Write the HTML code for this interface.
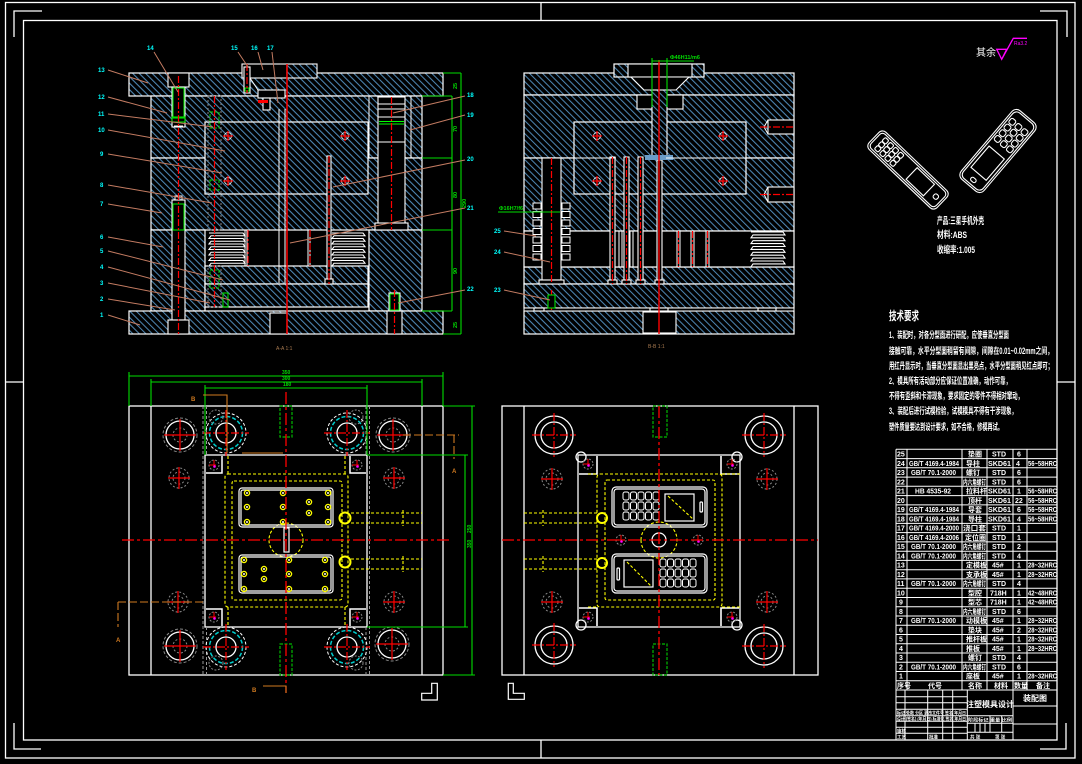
<!DOCTYPE html>
<html><head><meta charset="utf-8"><style>
html,body{margin:0;padding:0;background:#000;overflow:hidden}
svg{display:block}
text{font-family:"Liberation Sans","Noto Sans CJK SC",sans-serif}
</style></head><body>
<svg xmlns="http://www.w3.org/2000/svg" xmlns:xlink="http://www.w3.org/1999/xlink" width="1082" height="764" viewBox="0 0 1082 764">
<defs>
<pattern id="h" width="4.6" height="4.6" patternUnits="userSpaceOnUse" patternTransform="rotate(-45)"><rect width="4.6" height="4.6" fill="#000"/><line x1="0.5" y1="0" x2="0.5" y2="4.6" stroke="#4f88b5" stroke-width="1.1"/></pattern>
<g id="cx"><circle r="3.5" fill="none" stroke="#fff" stroke-width="0.8"/><path d="M-5 0H5M0 -5V5" stroke="#f00" stroke-width="1.3"/></g>
<g id="gb"><circle r="20" fill="none" stroke="#fff" stroke-dasharray="3 2"/><circle r="16.5" fill="none" stroke="#0cc" stroke-width="1.5" stroke-dasharray="4 2"/><circle r="10" fill="none" stroke="#fff" stroke-width="1.3"/><path d="M-23 0H23M0 -23V23" stroke="#f00" stroke-width="1.2" stroke-dasharray="8 2 2 2"/></g>
<g id="rp"><circle r="17" fill="none" stroke="#888" stroke-dasharray="3 2"/><circle r="14" fill="none" stroke="#fff" stroke-width="1.3"/><circle r="7" fill="none" stroke="#888" stroke-dasharray="2 2"/><path d="M-16 0H16M0 -16V16" stroke="#f00" stroke-width="1.2"/></g>
<g id="ss"><circle r="10" fill="none" stroke="#888" stroke-dasharray="2 2"/><circle r="6" fill="none" stroke="#888" stroke-dasharray="2 2"/><path d="M-11 0H11M0 -11V11" stroke="#f00" stroke-width="1.2"/></g>
<g id="ch"><circle r="5" fill="none" stroke="#888" stroke-dasharray="2 1.5"/><path d="M-5 0H2M0 -5V2" stroke="#f00"/><circle r="1.3" cx="0.5" cy="1.5" fill="#f0f"/></g>
<g id="lc"><circle r="19" fill="none" stroke="#fff" stroke-width="1.3"/><circle r="13" fill="none" stroke="#fff" stroke-width="1.3"/><path d="M-22 0H22M0 -22V22" stroke="#f00" stroke-width="1.2" stroke-dasharray="8 2 2 2"/></g>
<g id="yh"><circle r="2.6" fill="none" stroke="#ff0" stroke-width="1.3"/><circle r="1" fill="#fff"/></g>
<g id="key"><rect width="6" height="8" rx="2" fill="none" stroke="#fff" stroke-width="1"/></g>
</defs>
<rect width="1082" height="764" fill="#000"/>

<!-- FRAME -->
<g stroke="#fff" fill="none" stroke-width="1.3">
<rect x="5.5" y="2.5" width="1069.5" height="755.5"/>
<rect x="23.5" y="20.5" width="1033.5" height="719.5"/>
<path d="M14 37V11H42M14 723V749H41M1040 11H1067V37M1040 749H1066V723M541 2V20M541 740V758M5 382H23M1057 382H1075"/>
</g>

<!-- ================= VIEW A-A ================= -->
<g stroke="#fff" stroke-width="1.2" fill="url(#h)">
<rect x="129" y="73" width="314" height="23"/>
<rect x="151" y="96" width="271" height="62"/>
<rect x="151" y="158" width="271" height="72"/>
<rect x="151" y="230" width="54" height="81"/>
<rect x="369" y="230" width="53" height="81"/>
<rect x="205" y="266" width="163" height="18"/>
<rect x="205" y="284" width="163" height="23"/>
<rect x="129" y="311" width="314" height="23"/>
<rect x="205" y="122" width="163" height="72"/>
</g>
<g stroke="#fff" stroke-width="1.1" fill="#000">
<rect x="242" y="64" width="45" height="14"/>
<rect x="270" y="313" width="17" height="21"/>
<rect x="327" y="156" width="4" height="127"/>
<rect x="325" y="279" width="8" height="5"/>
<rect x="168" y="73" width="21" height="14"/>
<rect x="172" y="87" width="13" height="40"/>
<rect x="172" y="200" width="13" height="120"/>
<rect x="168" y="320" width="21" height="14"/>
<rect x="378" y="97" width="27" height="133"/>
<rect x="375" y="223" width="33" height="7"/>
<rect x="387" y="311" width="15" height="23"/>
<rect x="389" y="293" width="11" height="18"/>
<rect x="244" y="67" width="6" height="26"/>
<rect x="258" y="90" width="27" height="8"/>
<rect x="263" y="98" width="7" height="12"/>
</g>
<rect x="287" y="64" width="30" height="14" fill="url(#h)" stroke="#fff" stroke-width="1.1"/>
<path d="M250 78L258 90M279 109V283M285 109V283M245 230V266M247 230V266M308 230V266M310 230V266M378 104H405M378 109H405M378 117H405M378 142H405M369 96V158M411 96V158M174 126H183M175 196H182V200H175Z" stroke="#fff" fill="none" stroke-width="1"/>
<path d="M379 121.5H404M379 124H404" stroke="#0f0" stroke-width="1"/>
<g fill="none" stroke="#0d0" stroke-width="1.1">
<rect x="173" y="88" width="11" height="30"/>
<rect x="172" y="117" width="13" height="5"/>
<rect x="173" y="204" width="11" height="26"/>
<rect x="390" y="294" width="9" height="16"/>
<rect x="223" y="293" width="5" height="14"/>
<rect x="245" y="88" width="4" height="3"/>
</g>
<g fill="none" stroke="#888" stroke-dasharray="2 2">
<rect x="208" y="96" width="13" height="134"/>
<rect x="208" y="266" width="13" height="41"/>
</g>
<g fill="none" stroke="#0d0" stroke-dasharray="3 1.5">
<rect x="210" y="112" width="9" height="16"/>
<rect x="210" y="180" width="9" height="10"/>
<rect x="210" y="270" width="9" height="18"/>
</g>
<rect x="258" y="100" width="10" height="3" fill="#f00"/>
<!-- springs A-A -->
<path d="M209 233h34l2 2.75h-34l-2 2.75h34l2 2.75h-34l-2 2.75h34l2 2.75h-34l-2 2.75h34l2 2.75h-34l-2 2.75h34l2 2.75h-34l-2 2.75h34l2 2.75h-34l-2 2.75" fill="none" stroke="#fff" stroke-width="1.1"/>
<path d="M332 233h31l2 2.75h-31l-2 2.75h31l2 2.75h-31l-2 2.75h31l2 2.75h-31l-2 2.75h31l2 2.75h-31l-2 2.75h31l2 2.75h-31l-2 2.75h31l2 2.75h-31l-2 2.75" fill="none" stroke="#fff" stroke-width="1.1"/>
<!-- red centerlines A-A -->
<line x1="287" y1="64" x2="287" y2="334" stroke="#f00" stroke-width="1.5"/>
<g stroke="#f00" stroke-width="1.2" stroke-dasharray="7 2 2 2">
<line x1="329" y1="156" x2="329" y2="284"/>
<line x1="178.5" y1="76" x2="178.5" y2="334"/>
<line x1="214.5" y1="96" x2="214.5" y2="307"/>
<line x1="391.5" y1="97" x2="391.5" y2="230"/>
<line x1="394.5" y1="290" x2="394.5" y2="334"/>
<line x1="247" y1="64" x2="247" y2="93"/>
<line x1="248" y1="230" x2="248" y2="266"/>
<line x1="310" y1="230" x2="310" y2="266"/>
</g>
<use xlink:href="#cx" x="228" y="136"/><use xlink:href="#cx" x="345" y="136"/>
<use xlink:href="#cx" x="228" y="181"/><use xlink:href="#cx" x="345" y="181"/>
<!-- dims A-A -->
<g stroke="#0d0" stroke-width="1.1" fill="none">
<path d="M452 96V311M461 73V334M443 73H461M422 96H452M422 158H452M422 230H452M422 311H452M443 334H461"/>
</g>
<g fill="#0d0" font-size="5.5" font-weight="bold">
<text transform="translate(457,89) rotate(-90)">25</text>
<text transform="translate(457,132) rotate(-90)">70</text>
<text transform="translate(457,198) rotate(-90)">80</text>
<text transform="translate(457,274) rotate(-90)">90</text>
<text transform="translate(457,328) rotate(-90)">25</text>
<text transform="translate(466,208) rotate(-90)">290</text>
</g>
<!-- leaders A-A -->
<g stroke="#c47c62" stroke-width="1" fill="none">
<path d="M108 70L148 83M108 97L167 113M108 114L213 127M108 130L225 151M108 154L222 173M108 185L212 203M108 204L162 213M108 237L163 247M108 251L223 280M108 267L230 300M108 283L210 303M108 299L175 310M108 315L140 325"/>
<path d="M154 52L178 92M238 52L248 67M258 52L263 70M272 52L278 103"/>
<path d="M465 96L393 113M465 115L410 130M465 160L333 187M465 208L290 243M465 290L398 303"/>
</g>
<g fill="#0ff" font-size="6" font-weight="bold">
<text x="98" y="72">13</text><text x="98" y="99">12</text><text x="98" y="116">11</text><text x="98" y="132">10</text>
<text x="100" y="156">9</text><text x="100" y="187">8</text><text x="100" y="206">7</text><text x="100" y="239">6</text>
<text x="100" y="253">5</text><text x="100" y="269">4</text><text x="100" y="285">3</text><text x="100" y="301">2</text><text x="100" y="317">1</text>
<text x="147" y="50">14</text><text x="231" y="50">15</text><text x="251" y="50">16</text><text x="267" y="50">17</text>
<text x="467" y="97">18</text><text x="467" y="117">19</text><text x="467" y="161">20</text><text x="467" y="210">21</text><text x="467" y="291">22</text>
</g>
<text x="276" y="350" fill="#a87a50" font-size="5">A-A 1:1</text>

<!-- ================= VIEW B-B ================= -->
<g stroke="#fff" stroke-width="1.2" fill="url(#h)">
<rect x="524" y="73" width="270" height="22"/>
<rect x="524" y="95" width="270" height="63"/>
<rect x="524" y="158" width="270" height="73"/>
<rect x="524" y="267" width="270" height="17"/>
<rect x="524" y="284" width="270" height="24"/>
<rect x="524" y="311" width="270" height="23"/>
<rect x="574" y="122" width="172" height="72"/>
<rect x="614" y="64" width="90" height="13"/>
</g>
<rect x="524" y="231" width="270" height="36" fill="#000" stroke="#fff" stroke-width="1.2"/>
<rect x="524" y="308" width="270" height="3" fill="#000" stroke="#fff" stroke-width="1"/>
<g stroke="#fff" stroke-width="1.1" fill="#000">
<rect x="628" y="64" width="64" height="13"/>
<path d="M631 77L644 90H676L689 77Z"/>
<rect x="637" y="95" width="46" height="14"/>
<rect x="643" y="312" width="33" height="21"/>
<rect x="610" y="157" width="5" height="123"/><rect x="608" y="280" width="9" height="4"/>
<rect x="624" y="157" width="5" height="123"/><rect x="622" y="280" width="9" height="4"/>
<rect x="638" y="157" width="5" height="123"/><rect x="636" y="280" width="9" height="4"/>
<rect x="657" y="160" width="5" height="120"/><rect x="655" y="280" width="9" height="4"/>
<rect x="542" y="158" width="19" height="122"/><rect x="539" y="280" width="25" height="4"/>
<rect x="768" y="120" width="26" height="14"/>
<rect x="768" y="187" width="26" height="15"/>
<rect x="534" y="308" width="10" height="3"/><rect x="650" y="308" width="18" height="3"/><rect x="758" y="308" width="18" height="3"/>
</g>
<rect x="652" y="90" width="15" height="68" fill="url(#h)" stroke="#fff" stroke-width="1.1"/>
<rect x="645" y="155" width="28" height="5" fill="#6a9cc8"/>
<path d="M768 120L764 127L768 134M768 187L764 194.5L768 202M677 231V267M680 231V267M691 231V267M694 231V267M706 231V267M709 231V267M619 231V267M622 231V267M630 231V267M633 231V267M574 158H616M666 158H746" stroke="#fff" fill="none" stroke-width="1"/>
<!-- disc springs B-B -->
<g fill="#000" stroke="#fff" stroke-width="1">
<rect x="533" y="203" width="8" height="6"/><rect x="533" y="211.5" width="8" height="6"/><rect x="533" y="220" width="8" height="6"/><rect x="533" y="228.5" width="8" height="6"/><rect x="533" y="237" width="8" height="6"/><rect x="533" y="245.5" width="8" height="6"/><rect x="533" y="254" width="8" height="6"/>
<rect x="562" y="203" width="8" height="6"/><rect x="562" y="211.5" width="8" height="6"/><rect x="562" y="220" width="8" height="6"/><rect x="562" y="228.5" width="8" height="6"/><rect x="562" y="237" width="8" height="6"/><rect x="562" y="245.5" width="8" height="6"/><rect x="562" y="254" width="8" height="6"/>
</g>
<path d="M751 232h32l2 2.9h-32l-2 2.9h32l2 2.9h-32l-2 2.9h32l2 2.9h-32l-2 2.9h32l2 2.9h-32l-2 2.9h32l2 2.9h-32l-2 2.9h32l2 2.9h-32l-2 2.9" fill="none" stroke="#fff" stroke-width="1.1"/>
<line x1="659" y1="60" x2="659" y2="334" stroke="#f00" stroke-width="1.4"/>
<g stroke="#f00" stroke-width="1.2" stroke-dasharray="7 2 2 2">
<line x1="612.5" y1="157" x2="612.5" y2="284"/><line x1="626.5" y1="157" x2="626.5" y2="284"/><line x1="640.5" y1="157" x2="640.5" y2="284"/>
<line x1="678.5" y1="231" x2="678.5" y2="267"/><line x1="692.5" y1="231" x2="692.5" y2="267"/><line x1="707.5" y1="231" x2="707.5" y2="267"/>
<line x1="551.5" y1="158" x2="551.5" y2="284"/>
<line x1="760" y1="127" x2="794" y2="127"/><line x1="760" y1="194.5" x2="794" y2="194.5"/>
<line x1="551.5" y1="290" x2="551.5" y2="311"/>
</g>
<rect x="548" y="295" width="7" height="13" fill="#000" stroke="#0d0" stroke-width="1.1"/>
<use xlink:href="#cx" x="597" y="136"/><use xlink:href="#cx" x="723" y="136"/>
<use xlink:href="#cx" x="597" y="181"/><use xlink:href="#cx" x="723" y="181"/>
<g stroke="#0d0" stroke-width="1.1" fill="none">
<path d="M498 212H560M652 58V107M667 58V107M652 61H694"/>
</g>
<g fill="#0d0" font-size="5.5" font-weight="bold">
<text x="499" y="210">Φ16H7/f6</text>
<text x="670" y="59">Φ46H11/m6</text>
</g>
<g stroke="#c47c62" stroke-width="1" fill="none">
<path d="M504 231L536 236M504 252L550 262M504 290L550 300"/>
</g>
<g fill="#0ff" font-size="6" font-weight="bold">
<text x="494" y="233">25</text><text x="494" y="254">24</text><text x="494" y="292">23</text>
</g>
<text x="648" y="348" fill="#a87a50" font-size="5">B-B 1:1</text>

<!-- ================= PLAN LEFT ================= -->
<g stroke="#fff" fill="none" stroke-width="1.3">
<rect x="129" y="406" width="314" height="269"/>
<path d="M151 406V675M422 406V675"/>
<rect x="205" y="455" width="162" height="172"/>
</g>
<g stroke="#999" fill="none" stroke-dasharray="3 2">
<path d="M203 406V675M369.5 406V675M206.5 406V455M206.5 627V675M366 406V455M366 627V675"/>
</g>
<g stroke="#fff" fill="none" stroke-width="1.5">
<path d="M206 473H222V456M366 473H350V456M206 609H222V626M366 609H350V626"/>
</g>
<g stroke="#ff0" fill="none" stroke-width="1.1" stroke-dasharray="3 2">
<rect x="225" y="474" width="123" height="133" rx="3"/>
<rect x="232" y="481" width="110" height="119" rx="2"/>
<path d="M228 456V474M345 456V474M228 607V626M345 607V626M351 513H422M351 523H422M351 559H422M351 569H422M403 510V526M403 556V572"/>
<circle cx="286" cy="540" r="17"/>
</g>
<g stroke="#fff" fill="none" stroke-width="1.2">
<rect x="239" y="488" width="94" height="39" rx="3"/>
<rect x="241" y="490" width="90" height="35" rx="2"/>
<rect x="239" y="555" width="94" height="38" rx="3"/>
<rect x="241" y="557" width="90" height="34" rx="2"/>
<rect x="284" y="528" width="5" height="24"/>
</g>
<use xlink:href="#yh" x="247" y="493"/><use xlink:href="#yh" x="283" y="493"/><use xlink:href="#yh" x="328" y="493"/>
<use xlink:href="#yh" x="247" y="507"/><use xlink:href="#yh" x="283" y="507"/><use xlink:href="#yh" x="309" y="502"/>
<use xlink:href="#yh" x="328" y="507"/><use xlink:href="#yh" x="309" y="513"/><use xlink:href="#yh" x="247" y="522"/>
<use xlink:href="#yh" x="283" y="522"/><use xlink:href="#yh" x="328" y="522"/>
<use xlink:href="#yh" x="244" y="560"/><use xlink:href="#yh" x="289" y="560"/><use xlink:href="#yh" x="325" y="560"/>
<use xlink:href="#yh" x="244" y="574"/><use xlink:href="#yh" x="264" y="569"/><use xlink:href="#yh" x="289" y="574"/>
<use xlink:href="#yh" x="325" y="574"/><use xlink:href="#yh" x="264" y="579"/><use xlink:href="#yh" x="244" y="589"/>
<use xlink:href="#yh" x="289" y="589"/><use xlink:href="#yh" x="325" y="589"/>
<circle cx="345" cy="518" r="5.5" fill="none" stroke="#ff0" stroke-width="2"/>
<circle cx="345" cy="562" r="5.5" fill="none" stroke="#ff0" stroke-width="2"/>
<use xlink:href="#gb" x="226" y="433"/><use xlink:href="#gb" x="347" y="433"/>
<use xlink:href="#gb" x="226" y="647"/><use xlink:href="#gb" x="347" y="647"/>
<use xlink:href="#rp" x="180" y="435"/><use xlink:href="#rp" x="393" y="435"/>
<use xlink:href="#rp" x="180" y="646"/><use xlink:href="#rp" x="392" y="644"/>
<use xlink:href="#ss" x="179" y="478"/><use xlink:href="#ss" x="394" y="478"/>
<use xlink:href="#ss" x="178" y="602"/><use xlink:href="#ss" x="394" y="602"/>
<g fill="none" stroke="#888" stroke-dasharray="2 1.5"><circle cx="216" cy="417" r="7"/><circle cx="356" cy="417" r="7"/><circle cx="216" cy="663" r="7"/><circle cx="356" cy="663" r="7"/></g>
<use xlink:href="#ch" x="214" y="465"/><use xlink:href="#ch" x="357" y="465"/>
<use xlink:href="#ch" x="214" y="617"/><use xlink:href="#ch" x="357" y="617"/>
<g fill="none" stroke="#0b0" stroke-dasharray="3 1.5" stroke-width="1.2">
<rect x="280" y="406" width="12" height="31"/><rect x="280" y="644" width="12" height="31"/>
</g>
<g stroke="#f00" stroke-width="1.3" stroke-dasharray="12 3 3 3">
<line x1="122" y1="540" x2="450" y2="540"/>
<line x1="286" y1="392" x2="286" y2="693"/>
</g>
<g stroke="#0d0" stroke-width="1.1" fill="none">
<path d="M129 376H443M151 382H422M205 388H367M129 372V406M443 372V406M151 379V406M422 379V406M205 385V455M367 385V455"/>
<path d="M472 406V675M465 455V627M443 406H475M443 675H475M367 455H468M367 627H468"/>
</g>
<g fill="#0d0" font-size="5" font-weight="bold">
<text x="282" y="374">350</text><text x="282" y="380">300</text><text x="283" y="386">180</text>
<text transform="translate(471,548) rotate(-90)">350</text>
<text transform="translate(471,533) rotate(-90)">250</text>
</g>
<g stroke="#d07a20" stroke-width="1.1" fill="none">
<path d="M203 395H227V453M242 453H283"/>
<path d="M403 435H459M454 435V459" stroke-dasharray="8 3"/>
<path d="M118 602H205M118 602V627" stroke-dasharray="8 3"/>
<path d="M263 686H286V693"/>
</g>
<g fill="#d07a20" font-size="6" font-weight="bold">
<text x="191" y="401">B</text><text x="452" y="473">A</text><text x="116" y="642">A</text><text x="252" y="692">B</text>
</g>
<path d="M431.7 683.3H437.3V700H421.7V693.3H431.7Z" fill="none" stroke="#fff" stroke-width="1.2"/>

<!-- ================= PLAN RIGHT ================= -->
<g stroke="#fff" fill="none" stroke-width="1.3">
<rect x="502" y="406" width="316" height="269"/>
<path d="M524 406V675M794 406V675"/>
<rect x="578" y="455" width="162" height="172"/>
<circle cx="581" cy="457" r="5"/><circle cx="737" cy="457" r="5"/><circle cx="581" cy="625" r="5"/><circle cx="737" cy="625" r="5"/>
</g>
<g stroke="#fff" fill="none" stroke-width="1.6">
<path d="M579 474H597V456M739 474H721V456M579 608H597V626M739 608H721V626"/>
</g>
<g stroke="#ff0" fill="none" stroke-width="1.1" stroke-dasharray="3 2">
<rect x="597" y="474" width="125" height="133" rx="3"/>
<rect x="605" y="480" width="110" height="120" rx="2"/>
<path d="M524 513H597M524 523H597M524 559H597M524 569H597M543 510V526M543 556V572M588 474H597M722 474H740M588 607H597M722 607H740"/>
<path d="M641 540A18 18 0 0 1 677 540M641 540A18 18 0 0 0 677 540"/>
<path d="M668 496L694 520M627 562L652 587"/>
</g>
<g stroke="#fff" fill="none" stroke-width="1.2">
<rect x="612" y="487" width="95" height="40" rx="4"/>
<rect x="614" y="489" width="91" height="36" rx="3"/>
<rect x="612" y="554" width="95" height="39" rx="4"/>
<rect x="614" y="556" width="91" height="35" rx="3"/>
<rect x="665" y="494" width="29" height="27"/>
<rect x="624" y="560" width="29" height="27"/>
<rect x="700" y="502" width="2.5" height="10" rx="1"/>
<rect x="617" y="568" width="2.5" height="12" rx="1"/>
<circle cx="659" cy="540" r="7"/>
</g>
<use xlink:href="#key" x="623" y="492"/><use xlink:href="#key" x="630.5" y="492"/><use xlink:href="#key" x="638" y="492"/><use xlink:href="#key" x="645.5" y="492"/><use xlink:href="#key" x="653" y="492"/>
<use xlink:href="#key" x="623" y="502"/><use xlink:href="#key" x="630.5" y="502"/><use xlink:href="#key" x="638" y="502"/><use xlink:href="#key" x="645.5" y="502"/><use xlink:href="#key" x="653" y="502"/>
<use xlink:href="#key" x="623" y="512"/><use xlink:href="#key" x="630.5" y="512"/><use xlink:href="#key" x="638" y="512"/><use xlink:href="#key" x="645.5" y="512"/><use xlink:href="#key" x="653" y="512"/>
<use xlink:href="#key" x="660" y="559"/><use xlink:href="#key" x="667.5" y="559"/><use xlink:href="#key" x="675" y="559"/><use xlink:href="#key" x="682.5" y="559"/><use xlink:href="#key" x="690" y="559"/>
<use xlink:href="#key" x="660" y="569"/><use xlink:href="#key" x="667.5" y="569"/><use xlink:href="#key" x="675" y="569"/><use xlink:href="#key" x="682.5" y="569"/><use xlink:href="#key" x="690" y="569"/>
<use xlink:href="#key" x="660" y="579"/><use xlink:href="#key" x="667.5" y="579"/><use xlink:href="#key" x="675" y="579"/><use xlink:href="#key" x="682.5" y="579"/><use xlink:href="#key" x="690" y="579"/>
<circle cx="602" cy="518" r="5" fill="none" stroke="#ff0" stroke-width="2"/>
<circle cx="602" cy="563" r="5" fill="none" stroke="#ff0" stroke-width="2"/>
<use xlink:href="#lc" x="554" y="435"/><use xlink:href="#lc" x="764" y="435"/>
<use xlink:href="#lc" x="554" y="645"/><use xlink:href="#lc" x="764" y="646"/>
<use xlink:href="#ss" x="552" y="479"/><use xlink:href="#ss" x="767" y="479"/>
<use xlink:href="#ss" x="552" y="602"/><use xlink:href="#ss" x="767" y="602"/>
<use xlink:href="#ch" x="588" y="464"/><use xlink:href="#ch" x="732" y="464"/>
<use xlink:href="#ch" x="588" y="617"/><use xlink:href="#ch" x="732" y="617"/>
<use xlink:href="#ch" x="621" y="540"/><use xlink:href="#ch" x="698" y="540"/>
<g fill="none" stroke="#0b0" stroke-dasharray="3 1.5" stroke-width="1.2">
<rect x="653" y="406" width="14" height="31"/><rect x="653" y="644" width="14" height="31"/>
</g>
<g stroke="#f00" stroke-width="1.3" stroke-dasharray="12 3 3 3">
<line x1="502" y1="540" x2="818" y2="540"/>
<line x1="659" y1="406" x2="659" y2="675"/>
</g>
<path d="M508.3 683.3H513.3V693.3H524.3V699.3H508.3Z" fill="none" stroke="#fff" stroke-width="1.2"/>

<!-- ================= PHONES / NOTES ================= -->
<text x="976" y="56" fill="#fff" font-size="10">其余</text>
<path d="M996.7 49.3H1006.7L1001.7 59.3ZM1001.7 59.3L1013.3 38.3H1027" fill="none" stroke="#f0f" stroke-width="1.3"/>
<text x="1014" y="45" fill="#f0f" font-size="5">Ra3.2</text>

<g transform="translate(908,170) rotate(43.7)" stroke="#fff" fill="none" stroke-width="1.1">
<rect x="-47" y="-12" width="94" height="24" rx="5"/>
<rect x="-45" y="-10" width="90" height="20" rx="4"/>
<rect x="-39" y="-8" width="5" height="5" rx="1.5"/><rect x="-32" y="-8" width="5" height="5" rx="1.5"/><rect x="-25" y="-8" width="5" height="5" rx="1.5"/><rect x="-18" y="-8" width="5" height="5" rx="1.5"/>
<rect x="-39" y="-2.5" width="5" height="5" rx="1.5"/><rect x="-32" y="-2.5" width="5" height="5" rx="1.5"/><rect x="-25" y="-2.5" width="5" height="5" rx="1.5"/><rect x="-18" y="-2.5" width="5" height="5" rx="1.5"/>
<rect x="-39" y="3" width="5" height="5" rx="1.5"/><rect x="-32" y="3" width="5" height="5" rx="1.5"/><rect x="-25" y="3" width="5" height="5" rx="1.5"/><rect x="-18" y="3" width="5" height="5" rx="1.5"/>
<rect x="5" y="-8" width="24" height="16"/>
<rect x="36" y="-2.5" width="5" height="5" rx="2"/>
</g>
<g transform="translate(998,151) rotate(-49.6)" stroke="#fff" fill="none" stroke-width="1.1">
<rect x="-45" y="-15" width="90" height="30" rx="6"/>
<rect x="-43" y="-13" width="86" height="26" rx="5"/>
<rect x="6" y="-11" width="6" height="6" rx="2"/><rect x="13.5" y="-11" width="6" height="6" rx="2"/><rect x="21" y="-11" width="6" height="6" rx="2"/><rect x="28.5" y="-11" width="6" height="6" rx="2"/>
<rect x="6" y="-3" width="6" height="6" rx="2"/><rect x="13.5" y="-3" width="6" height="6" rx="2"/><rect x="21" y="-3" width="6" height="6" rx="2"/><rect x="28.5" y="-3" width="6" height="6" rx="2"/>
<rect x="6" y="5" width="6" height="6" rx="2"/><rect x="13.5" y="5" width="6" height="6" rx="2"/><rect x="21" y="5" width="6" height="6" rx="2"/><rect x="28.5" y="5" width="6" height="6" rx="2"/>
<rect x="-30" y="-10" width="28" height="20"/>
<rect x="-40" y="-3" width="4" height="6" rx="2"/>
</g>
<g fill="#fff" font-size="9.5" font-weight="bold">
<text x="937" y="224" textLength="47" lengthAdjust="spacingAndGlyphs">产品:三星手机外壳</text>
<text x="937" y="238" textLength="30" lengthAdjust="spacingAndGlyphs">材料:ABS</text>
<text x="937" y="253" textLength="38" lengthAdjust="spacingAndGlyphs">收缩率:1.005</text>
</g>
<text x="889" y="320" fill="#fff" font-size="12" font-weight="bold" textLength="30" lengthAdjust="spacingAndGlyphs">技术要求</text>
<g fill="#fff" font-size="9" font-weight="bold">
<text x="889" y="338" textLength="120" lengthAdjust="spacingAndGlyphs">1、装配时，对各分型面进行研配，应使垂直分型面</text>
<text x="889" y="354" textLength="164" lengthAdjust="spacingAndGlyphs">接触可靠，水平分型面稍留有间隙，间隙在0.01~0.02mm之间，</text>
<text x="889" y="369" textLength="164" lengthAdjust="spacingAndGlyphs">用红丹显示时，当垂直分型面显出黑亮点，水平分型面稍见红点即可；</text>
<text x="889" y="384" textLength="122" lengthAdjust="spacingAndGlyphs">2、模具所有活动部分应保证位置准确，动作可靠，</text>
<text x="889" y="399" textLength="134" lengthAdjust="spacingAndGlyphs">不得有歪斜和卡滞现象，要求固定的零件不得相对窜动，</text>
<text x="889" y="414" textLength="128" lengthAdjust="spacingAndGlyphs">3、装配后进行试模检验，试模模具不得有干涉现象，</text>
<text x="889" y="430" textLength="114" lengthAdjust="spacingAndGlyphs">塑件质量要达到设计要求，如不合格，修模再试。</text>
</g>

<!-- ================= TABLE ================= -->
<g stroke="#fff" stroke-width="1" fill="none">
<path d="M896 449.3V740M907 449.3V690M962 449.3V690M987 449.3V690M1013 449.3V740M1027 449.3V690M1057 449.3V740M967.3 690V740"/>
<path d="M896 449.3H1057M896 458.6H1057M896 467.8H1057M896 477.1H1057M896 486.3H1057M896 495.6H1057M896 504.9H1057M896 514.1H1057M896 523.4H1057M896 532.6H1057M896 541.9H1057M896 551.2H1057M896 560.4H1057M896 569.7H1057M896 578.9H1057M896 588.2H1057M896 597.5H1057M896 606.7H1057M896 616H1057M896 625.2H1057M896 634.5H1057M896 643.8H1057M896 653H1057M896 662.3H1057M896 671.5H1057M896 680.8H1057M896 690H1057"/>
<path d="M896 696.7H967M896 702.7H967M896 709.3H967M896 715.7H967M896 721.3H967M896 727.3H967M896 733.3H967M905 690V740M927.7 690V740M942.7 690V740M952.7 690V740"/>
<path d="M967 715.7H1013M967 723.3H1013M967 732.3H1013M975 723.3V732.3M980 723.3V732.3M985 723.3V732.3M990 715.7V732.3M1001.7 715.7V732.3M1013 706H1057M1013 724H1057"/>
</g>
<g fill="#fff" font-size="7" font-weight="bold">
<text x="897" y="456.5">25</text><text x="968" y="456.5">垫圈</text><text x="992" y="456.5">STD</text><text x="1017" y="456.5">6</text>
<text x="897" y="465.8">24</text><text x="909" y="465.8" textLength="50" lengthAdjust="spacingAndGlyphs">GB/T 4169.4-1984</text><text x="966" y="465.8">导柱</text><text x="988" y="465.8" textLength="23" lengthAdjust="spacingAndGlyphs">SKD61</text><text x="1016" y="465.8">4</text><text x="1028" y="465.8" textLength="29" lengthAdjust="spacingAndGlyphs">56~58HRC</text>
<text x="897" y="475">23</text><text x="911" y="475" textLength="45" lengthAdjust="spacingAndGlyphs">GB/T 70.1-2000</text><text x="966" y="475">螺钉</text><text x="992" y="475">STD</text><text x="1017" y="475">6</text>
<text x="897" y="484.3">22</text><text x="963" y="484.3" textLength="23" lengthAdjust="spacingAndGlyphs">内六角螺钉</text><text x="992" y="484.3">STD</text><text x="1017" y="484.3">6</text>
<text x="897" y="493.5">21</text><text x="915" y="493.5" textLength="36" lengthAdjust="spacingAndGlyphs">HB 4535-92</text><text x="966" y="493.5">拉料杆</text><text x="988" y="493.5" textLength="23" lengthAdjust="spacingAndGlyphs">SKD61</text><text x="1017" y="493.5">1</text><text x="1028" y="493.5" textLength="29" lengthAdjust="spacingAndGlyphs">56~58HRC</text>
<text x="897" y="502.8">20</text><text x="968" y="502.8">顶杆</text><text x="988" y="502.8" textLength="23" lengthAdjust="spacingAndGlyphs">SKD61</text><text x="1015" y="502.8">22</text><text x="1028" y="502.8" textLength="29" lengthAdjust="spacingAndGlyphs">56~58HRC</text>
<text x="897" y="512.1">19</text><text x="909" y="512.1" textLength="50" lengthAdjust="spacingAndGlyphs">GB/T 4169.4-1984</text><text x="968" y="512.1">导套</text><text x="988" y="512.1" textLength="23" lengthAdjust="spacingAndGlyphs">SKD61</text><text x="1017" y="512.1">6</text><text x="1028" y="512.1" textLength="29" lengthAdjust="spacingAndGlyphs">56~58HRC</text>
<text x="897" y="521.3">18</text><text x="909" y="521.3" textLength="50" lengthAdjust="spacingAndGlyphs">GB/T 4169.4-1984</text><text x="968" y="521.3">导柱</text><text x="988" y="521.3" textLength="23" lengthAdjust="spacingAndGlyphs">SKD61</text><text x="1017" y="521.3">4</text><text x="1028" y="521.3" textLength="29" lengthAdjust="spacingAndGlyphs">56~58HRC</text>
<text x="897" y="530.6">17</text><text x="909" y="530.6" textLength="50" lengthAdjust="spacingAndGlyphs">GB/T 4169.4-2000</text><text x="963" y="530.6" textLength="23" lengthAdjust="spacingAndGlyphs">浇口套</text><text x="992" y="530.6">STD</text><text x="1017" y="530.6">1</text>
<text x="897" y="539.8">16</text><text x="909" y="539.8" textLength="50" lengthAdjust="spacingAndGlyphs">GB/T 4169.4-2006</text><text x="965" y="539.8">定位圈</text><text x="992" y="539.8">STD</text><text x="1017" y="539.8">1</text>
<text x="897" y="549.1">15</text><text x="911" y="549.1" textLength="45" lengthAdjust="spacingAndGlyphs">GB/T 70.1-2000</text><text x="963" y="549.1" textLength="23" lengthAdjust="spacingAndGlyphs">内六角螺钉</text><text x="992" y="549.1">STD</text><text x="1017" y="549.1">2</text>
<text x="897" y="558.4">14</text><text x="911" y="558.4" textLength="45" lengthAdjust="spacingAndGlyphs">GB/T 70.1-2000</text><text x="963" y="558.4" textLength="23" lengthAdjust="spacingAndGlyphs">内六角螺钉</text><text x="992" y="558.4">STD</text><text x="1017" y="558.4">4</text>
<text x="897" y="567.6">13</text><text x="966" y="567.6">定模板</text><text x="992" y="567.6">45#</text><text x="1017" y="567.6">1</text><text x="1028" y="567.6" textLength="29" lengthAdjust="spacingAndGlyphs">28~32HRC</text>
<text x="897" y="576.9">12</text><text x="966" y="576.9">支承板</text><text x="992" y="576.9">45#</text><text x="1017" y="576.9">1</text><text x="1028" y="576.9" textLength="29" lengthAdjust="spacingAndGlyphs">28~32HRC</text>
<text x="897" y="586.1">11</text><text x="911" y="586.1" textLength="45" lengthAdjust="spacingAndGlyphs">GB/T 70.1-2000</text><text x="963" y="586.1" textLength="23" lengthAdjust="spacingAndGlyphs">内六角螺钉</text><text x="992" y="586.1">STD</text><text x="1017" y="586.1">4</text>
<text x="897" y="595.4">10</text><text x="968" y="595.4">型腔</text><text x="990" y="595.4">718H</text><text x="1017" y="595.4">1</text><text x="1028" y="595.4" textLength="29" lengthAdjust="spacingAndGlyphs">42~48HRC</text>
<text x="899" y="604.7">9</text><text x="968" y="604.7">型芯</text><text x="990" y="604.7">718H</text><text x="1017" y="604.7">1</text><text x="1028" y="604.7" textLength="29" lengthAdjust="spacingAndGlyphs">42~48HRC</text>
<text x="899" y="613.9">8</text><text x="963" y="613.9" textLength="23" lengthAdjust="spacingAndGlyphs">内六角螺钉</text><text x="992" y="613.9">STD</text><text x="1017" y="613.9">6</text>
<text x="899" y="623.2">7</text><text x="911" y="623.2" textLength="45" lengthAdjust="spacingAndGlyphs">GB/T 70.1-2000</text><text x="966" y="623.2">动模板</text><text x="992" y="623.2">45#</text><text x="1017" y="623.2">1</text><text x="1028" y="623.2" textLength="29" lengthAdjust="spacingAndGlyphs">28~32HRC</text>
<text x="899" y="632.4">6</text><text x="968" y="632.4">垫块</text><text x="992" y="632.4">45#</text><text x="1017" y="632.4">2</text><text x="1028" y="632.4" textLength="29" lengthAdjust="spacingAndGlyphs">28~32HRC</text>
<text x="899" y="641.7">5</text><text x="966" y="641.7">推杆板</text><text x="992" y="641.7">45#</text><text x="1017" y="641.7">1</text><text x="1028" y="641.7" textLength="29" lengthAdjust="spacingAndGlyphs">28~32HRC</text>
<text x="899" y="651">4</text><text x="966" y="651">推板</text><text x="992" y="651">45#</text><text x="1017" y="651">1</text><text x="1028" y="651" textLength="29" lengthAdjust="spacingAndGlyphs">28~32HRC</text>
<text x="899" y="660.2">3</text><text x="968" y="660.2">螺钉</text><text x="992" y="660.2">STD</text><text x="1017" y="660.2">4</text>
<text x="899" y="669.5">2</text><text x="911" y="669.5" textLength="45" lengthAdjust="spacingAndGlyphs">GB/T 70.1-2000</text><text x="963" y="669.5" textLength="23" lengthAdjust="spacingAndGlyphs">内六角螺钉</text><text x="992" y="669.5">STD</text><text x="1017" y="669.5">6</text>
<text x="899" y="678.7">1</text><text x="966" y="678.7">座板</text><text x="992" y="678.7">45#</text><text x="1017" y="678.7">1</text><text x="1028" y="678.7" textLength="29" lengthAdjust="spacingAndGlyphs">28~32HRC</text>
<text x="897" y="688">序号</text><text x="928" y="688">代号</text><text x="968" y="688">名称</text><text x="994" y="688">材料</text><text x="1014" y="688">数量</text><text x="1036" y="688">备注</text>
</g>
<g fill="#fff" font-weight="bold">
<text x="990" y="707" font-size="8" text-anchor="middle">注塑模具设计</text>
<text x="1035" y="701" font-size="8" text-anchor="middle">装配图</text>
<text x="897" y="714.5" font-size="4.5" textLength="69" lengthAdjust="spacingAndGlyphs">标记 处数 分区 更改文件号 签名 年月日</text>
<text x="897" y="720.5" font-size="4.5" textLength="69" lengthAdjust="spacingAndGlyphs">设计 (签名) (年月日) 标准化 签名 年月日</text>
<text x="968" y="721.5" font-size="4.5" textLength="44" lengthAdjust="spacingAndGlyphs">阶段标记 重量 比例</text>
<text x="897" y="732.5" font-size="4.5">审核</text>
<text x="897" y="738.5" font-size="4.5">工艺</text><text x="929" y="738.5" font-size="4.5">批准</text>
<text x="970" y="738.5" font-size="4.5">共 张</text><text x="995" y="738.5" font-size="4.5">第 张</text>
</g>
</svg>
</body></html>
